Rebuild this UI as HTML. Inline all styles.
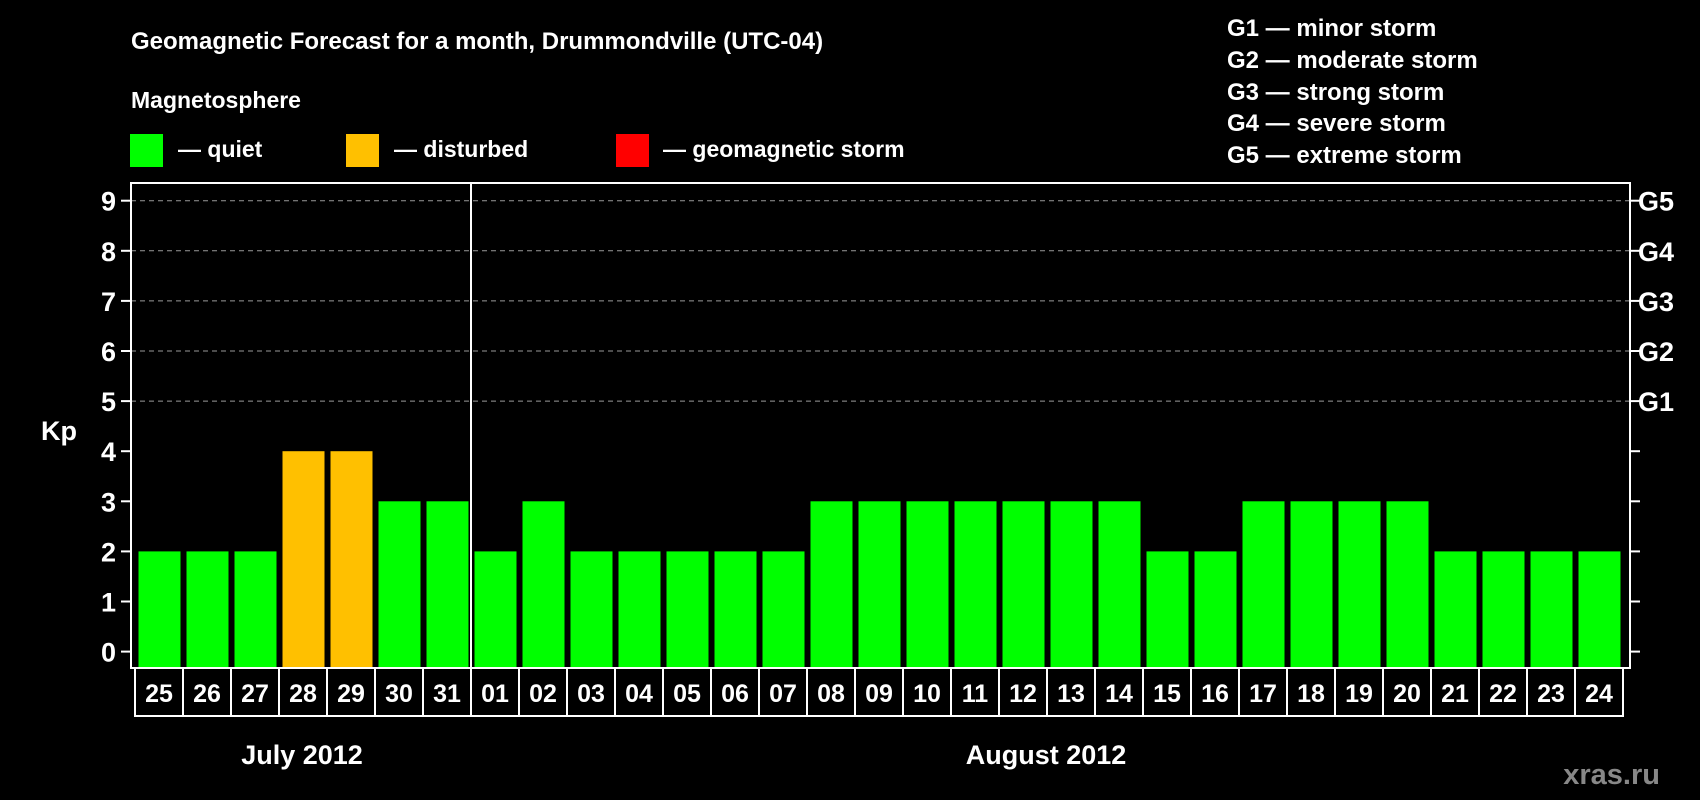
<!DOCTYPE html>
<html><head><meta charset="utf-8"><style>
html,body{margin:0;padding:0;background:#000;}
svg{display:block;font-family:"Liberation Sans",Arial,sans-serif;font-weight:bold;}
</style></head><body>
<svg id="c" width="1700" height="800" viewBox="0 0 1700 800" xmlns="http://www.w3.org/2000/svg">
<rect width="1700" height="800" fill="#000"/>
<text x="131" y="49" fill="#fff" font-size="24">Geomagnetic Forecast for a month, Drummondville (UTC-04)</text>
<text x="131" y="108" fill="#fff" font-size="23">Magnetosphere</text>
<g><rect x="130" y="134" width="33" height="33" fill="#00ff00"/><text x="178" y="157" fill="#fff" font-size="23">— quiet</text></g>
<g><rect x="346" y="134" width="33" height="33" fill="#ffc000"/><text x="394" y="157" fill="#fff" font-size="23">— disturbed</text></g>
<g><rect x="616" y="134" width="33" height="33" fill="#ff0000"/><text x="663" y="157" fill="#fff" font-size="23">— geomagnetic storm</text></g>
<g fill="#fff" font-size="24">
<text x="1227" y="36">G1 — minor storm</text>
<text x="1227" y="68">G2 — moderate storm</text>
<text x="1227" y="100">G3 — strong storm</text>
<text x="1227" y="131">G4 — severe storm</text>
<text x="1227" y="163">G5 — extreme storm</text>
</g>
<text x="41" y="440" fill="#fff" font-size="27">Kp</text>
<g id="plot"></g>
<text x="302" y="764" fill="#fff" font-size="27" text-anchor="middle">July 2012</text>
<text x="1046" y="764" fill="#fff" font-size="27" text-anchor="middle">August 2012</text>
<text x="1660" y="784" fill="#888" font-size="29" text-anchor="end">xras.ru</text>
</svg>
<script>
const days = ["25","26","27","28","29","30","31","01","02","03","04","05","06","07","08","09","10","11","12","13","14","15","16","17","18","19","20","21","22","23","24"];
const kpValues = [2,2,2,4,4,3,3,2,3,2,2,2,2,2,3,3,3,3,3,3,3,2,2,3,3,3,3,2,2,2,2];
const yTicks = [0,1,2,3,4,5,6,7,8,9];
const gLabels = ["","","","","","G1","G2","G3","G4","G5"];
const NS="http://www.w3.org/2000/svg";
const g=document.getElementById('plot');
const X0=135, CW=48, Y0=651.6, UNIT=50.1, FL=131, FR=1630, FT=183, FB=668;
const yS=v=>Y0-v*UNIT;
const xS=i=>X0+i*CW;
function mk(t,a){const e=document.createElementNS(NS,t);for(const k in a)e.setAttribute(k,a[k]);g.appendChild(e);return e;}
// grid
yTicks.forEach((v,i)=>{
  const y=yS(v);
  if(v>=5){const l=mk('line',{x1:FL,x2:FR,y1:y,y2:y,stroke:'#999','stroke-dasharray':'5,4','stroke-width':1});
    
    }
  const t1=mk('line',{x1:FL-10,x2:FL,y1:y,y2:y,stroke:'#fff','stroke-width':2});
  
  
  const t2=mk('line',{x1:FR,x2:FR+10,y1:y,y2:y,stroke:'#fff','stroke-width':2});
  
  
  const lb=mk('text',{x:116,y:y+10,fill:'#fff','font-size':27,'text-anchor':'end'});lb.textContent=String(v);
  
  
  if(gLabels[i]){const gl=mk('text',{x:1638,y:y+10,fill:'#fff','font-size':27});gl.textContent=gLabels[i];
    
    }
});
// bars
kpValues.forEach((v,i)=>{
  const col=v>=5?'#ff0000':(v>=4?'#ffc000':'#00ff00');
  const b=mk('rect',{x:xS(i)+3.5,y:yS(v),width:42,height:FB-yS(v),fill:col});
  
  
});
// frame
const fr=mk('rect',{x:FL,y:FT,width:FR-FL,height:FB-FT,fill:'none',stroke:'#fff','stroke-width':2});


const dv=mk('line',{x1:xS(7),x2:xS(7),y1:FT,y2:716,stroke:'#fff','stroke-width':2});


// date cells
days.forEach((d,i)=>{
  const r=mk('rect',{x:xS(i),y:FB,width:CW,height:48,fill:'#000',stroke:'#fff','stroke-width':2});
  
  
  const t=mk('text',{x:xS(i)+CW/2,y:FB+34,fill:'#fff','font-size':25,'text-anchor':'middle'});t.textContent=d;
  
  
});
</script>
</body></html>
